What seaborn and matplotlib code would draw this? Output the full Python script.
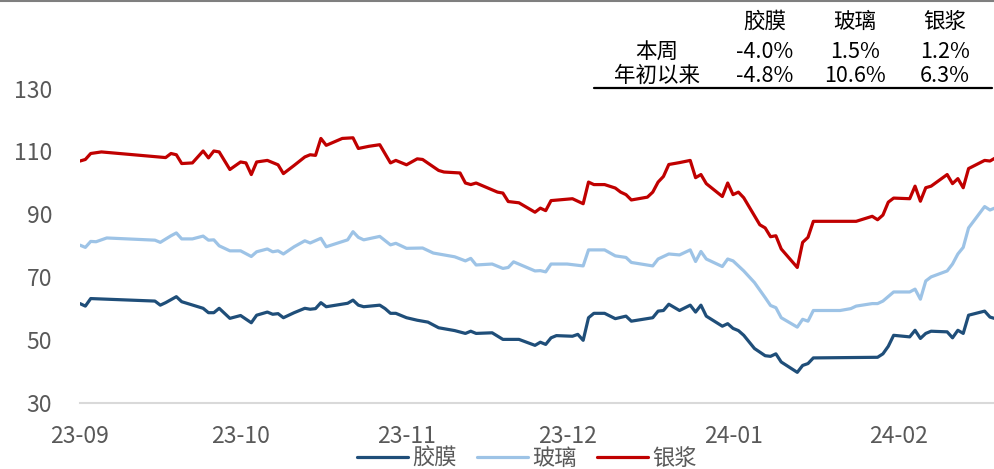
import matplotlib
matplotlib.use("Agg")
import matplotlib.pyplot as plt
import matplotlib.dates as mdates
from matplotlib.lines import Line2D
import seaborn as sns
import pandas as pd

# ---------------- data ----------------
film_dates = ["2023-09-01","2023-09-02","2023-09-03","2023-09-15","2023-09-16","2023-09-17","2023-09-19","2023-09-20",
              "2023-09-24","2023-09-25","2023-09-26","2023-09-27","2023-09-29","2023-10-01","2023-10-03","2023-10-04",
              "2023-10-06","2023-10-07","2023-10-08","2023-10-09","2023-10-11","2023-10-13","2023-10-14","2023-10-15",
              "2023-10-16","2023-10-17","2023-10-21","2023-10-22","2023-10-23","2023-10-24","2023-10-27","2023-10-28",
              "2023-10-29","2023-10-30","2023-11-01","2023-11-03","2023-11-05","2023-11-07","2023-11-10","2023-11-12",
              "2023-11-13","2023-11-14","2023-11-17","2023-11-19","2023-11-22","2023-11-25","2023-11-26","2023-11-27",
              "2023-11-28","2023-11-29","2023-12-02","2023-12-03","2023-12-04","2023-12-05","2023-12-06","2023-12-08",
              "2023-12-10","2023-12-12","2023-12-13","2023-12-17","2023-12-18","2023-12-19","2023-12-20","2023-12-22",
              "2023-12-24","2023-12-25","2023-12-26","2023-12-27","2023-12-30","2023-12-31","2024-01-01","2024-01-02",
              "2024-01-03","2024-01-05","2024-01-07","2024-01-08","2024-01-09","2024-01-10","2024-01-13","2024-01-14",
              "2024-01-15","2024-01-16","2024-01-28","2024-01-29","2024-01-30","2024-01-31","2024-02-03","2024-02-04",
              "2024-02-05","2024-02-06","2024-02-07","2024-02-10","2024-02-11","2024-02-12","2024-02-13","2024-02-14",
              "2024-02-17","2024-02-18","2024-02-19"]
film_vals = [61.5,60.7,63.1,62.3,61.0,61.8,63.7,62.1,
             60.0,58.6,58.6,60.0,56.8,57.7,55.4,57.8,
             58.8,58.1,58.3,57.0,58.6,60.0,59.7,59.9,
             61.8,60.5,61.6,62.6,61.0,60.5,61.0,59.9,
             58.4,58.4,57.0,56.2,55.6,53.8,52.9,52.0,
             52.7,52.0,52.2,50.1,50.1,48.2,49.2,48.5,
             50.6,51.3,51.1,51.7,49.8,57.0,58.4,58.4,
             56.7,57.5,55.9,57.0,59.1,59.3,61.3,59.3,
             61.0,58.8,61.0,57.5,54.3,55.1,53.6,52.9,
             51.4,47.2,44.9,44.7,45.5,42.9,39.6,41.8,
             42.4,44.2,44.4,45.5,47.9,51.4,50.9,53.0,
             50.4,52.0,52.7,52.5,50.6,53.0,52.0,57.8,
             59.1,57.2,56.7]

glass_dates = ["2023-09-01","2023-09-02","2023-09-03","2023-09-04","2023-09-06","2023-09-15","2023-09-16","2023-09-18",
               "2023-09-19","2023-09-20","2023-09-22","2023-09-24","2023-09-25","2023-09-26","2023-09-27","2023-09-29",
               "2023-10-01","2023-10-03","2023-10-04","2023-10-06","2023-10-07","2023-10-08","2023-10-09","2023-10-11",
               "2023-10-13","2023-10-14","2023-10-16","2023-10-17","2023-10-21","2023-10-22","2023-10-23","2023-10-24",
               "2023-10-27","2023-10-29","2023-10-30","2023-11-01","2023-11-04","2023-11-06","2023-11-10","2023-11-12",
               "2023-11-13","2023-11-14","2023-11-17","2023-11-19","2023-11-20","2023-11-21","2023-11-25","2023-11-26",
               "2023-11-27","2023-11-28","2023-12-01","2023-12-04","2023-12-05","2023-12-08","2023-12-10","2023-12-12",
               "2023-12-13","2023-12-17","2023-12-18","2023-12-20","2023-12-22","2023-12-24","2023-12-25","2023-12-26",
               "2023-12-27","2023-12-30","2023-12-31","2024-01-01","2024-01-03","2024-01-05","2024-01-07","2024-01-08",
               "2024-01-09","2024-01-10","2024-01-13","2024-01-14","2024-01-15","2024-01-16","2024-01-21","2024-01-23",
               "2024-01-24","2024-01-27","2024-01-28","2024-01-29","2024-01-31","2024-02-03","2024-02-04","2024-02-05",
               "2024-02-06","2024-02-07","2024-02-10","2024-02-11","2024-02-12","2024-02-13","2024-02-14","2024-02-17",
               "2024-02-18","2024-02-19"]
glass_vals = [80.1,79.4,81.3,81.2,82.4,81.7,81.0,83.1,
              84.0,82.1,82.1,83.0,81.7,81.8,79.9,78.3,
              78.3,76.5,78.0,78.9,78.0,78.3,77.3,79.6,
              81.5,80.8,82.3,79.6,81.8,84.4,82.6,81.8,
              82.9,80.2,80.7,79.1,79.2,77.6,76.4,75.1,
              75.9,73.8,74.1,72.7,73.0,74.8,71.9,72.0,
              71.6,74.1,74.1,73.5,78.6,78.6,76.7,76.2,
              74.6,73.5,75.7,77.3,77.0,78.6,74.9,78.1,
              75.7,73.3,75.7,75.1,71.9,68.2,63.4,60.9,
              60.2,57.0,54.0,56.5,55.9,59.3,59.3,59.9,
              60.7,61.5,61.5,62.3,65.2,65.2,66.1,62.9,
              68.7,70.0,71.9,74.1,77.3,79.4,85.6,92.4,
              91.3,92.0]

paste_dates = ["2023-09-01","2023-09-02","2023-09-03","2023-09-05","2023-09-17","2023-09-18","2023-09-19","2023-09-20",
               "2023-09-22","2023-09-24","2023-09-25","2023-09-26","2023-09-27","2023-09-29","2023-10-01","2023-10-02",
               "2023-10-03","2023-10-04","2023-10-06","2023-10-08","2023-10-09","2023-10-11","2023-10-13","2023-10-14",
               "2023-10-15","2023-10-16","2023-10-17","2023-10-20","2023-10-22","2023-10-23","2023-10-25","2023-10-27",
               "2023-10-29","2023-10-30","2023-11-01","2023-11-03","2023-11-04","2023-11-07","2023-11-08","2023-11-11",
               "2023-11-12","2023-11-13","2023-11-14","2023-11-18","2023-11-19","2023-11-20","2023-11-22","2023-11-25",
               "2023-11-26","2023-11-27","2023-11-28","2023-12-02","2023-12-04","2023-12-05","2023-12-06","2023-12-08",
               "2023-12-10","2023-12-11","2023-12-12","2023-12-13","2023-12-16","2023-12-17","2023-12-18","2023-12-19",
               "2023-12-20","2023-12-22","2023-12-24","2023-12-25","2023-12-26","2023-12-27","2023-12-30","2023-12-31",
               "2024-01-01","2024-01-02","2024-01-03","2024-01-06","2024-01-07","2024-01-08","2024-01-09","2024-01-10",
               "2024-01-13","2024-01-14","2024-01-15","2024-01-16","2024-01-24","2024-01-27","2024-01-28","2024-01-29",
               "2024-01-30","2024-01-31","2024-02-03","2024-02-04","2024-02-05","2024-02-06","2024-02-07","2024-02-10",
               "2024-02-11","2024-02-12","2024-02-13","2024-02-14","2024-02-17","2024-02-18","2024-02-19"]
paste_vals = [106.9,107.4,109.3,109.8,108.0,109.3,108.9,106.1,
              106.3,110.1,107.9,110.1,109.8,104.2,106.6,106.3,
              102.6,106.6,107.1,105.7,102.9,105.5,108.2,108.9,
              108.7,114.1,111.9,114.1,114.3,110.9,111.6,112.1,
              106.3,107.1,105.7,107.6,107.4,103.9,103.4,103.1,
              99.9,99.4,99.9,97.0,96.7,94.0,93.6,90.6,
              91.9,91.1,94.3,94.9,93.3,100.2,99.4,99.4,
              98.3,97.0,96.2,94.5,95.4,97.0,100.2,102.0,
              105.8,106.4,107.1,101.6,102.6,99.7,95.6,99.9,
              96.2,97.0,95.2,86.6,85.6,82.8,83.1,78.9,
              73.0,81.0,82.6,87.7,87.7,89.3,88.2,89.7,
              93.8,95.1,94.9,98.9,94.1,98.4,98.9,102.6,
              99.7,101.3,98.4,104.5,107.1,106.9,107.9]

series_names = ["胶膜", "玻璃", "银浆"]
table_rows = ["本周", "年初以来"]
table_week = ["-4.0%", "1.5%", "1.2%"]
table_ytd = ["-4.8%", "10.6%", "6.3%"]
y_ticks = [30, 50, 70, 90, 110, 130]

# ---------------- style ----------------
sns.set_theme(style="white")
plt.rcParams['font.family'] = ['Noto Sans CJK SC', 'DejaVu Sans']

colors = ["#1f4e79", "#9dc3e6", "#c00000"]
gray = "#595959"

fig = plt.figure(figsize=(9.94, 4.69), dpi=100)
ax = fig.add_axes([80/994, (469-402.5)/469, 1 - 80/994, (402.5-88.5)/469])

for name, d, v, c in zip(series_names, [film_dates, glass_dates, paste_dates],
                         [film_vals, glass_vals, paste_vals], colors):
    sns.lineplot(x=pd.to_datetime(d), y=v, ax=ax, color=c, linewidth=2.3, label=name)

ax.set_xlim(pd.Timestamp("2023-09-01"), pd.Timestamp("2024-02-18 18:00"))
ax.set_ylim(30, 130)
ax.set_yticks(y_ticks)
ax.xaxis.set_major_locator(mdates.MonthLocator())
ax.xaxis.set_major_formatter(mdates.DateFormatter("%y-%m"))

for s in ["top", "right", "left"]:
    ax.spines[s].set_visible(False)
ax.spines["bottom"].set_color("#d9d9d9")
ax.spines["bottom"].set_linewidth(1.5)
ax.tick_params(axis="x", colors="#d9d9d9", length=6, width=1.5, direction="out",
               labelcolor=gray, labelsize=16.5, pad=10)
ax.tick_params(axis="y", length=0, labelcolor=gray, labelsize=16.5, pad=20)
ax.set_xlabel("")
ax.set_ylabel("")
ax.grid(False)

leg = ax.legend(loc="center", bbox_to_anchor=(527/994, 1 - 458/469), bbox_transform=fig.transFigure,
                ncol=3, frameon=False, fontsize=16, handlelength=2.3, handletextpad=0.2,
                columnspacing=0.9, borderaxespad=0)
for t in leg.get_texts():
    t.set_color(gray)

# ---------------- table ----------------
col_x = [765, 855, 945]
row_y = [51.5, 76]
kw = dict(ha="center", va="center", fontsize=15.5, color="black", transform=fig.transFigure)
for x, name in zip(col_x, series_names):
    fig.text(x/994, 1 - 21.5/469, name, **kw)
for y, lab in zip(row_y, table_rows):
    fig.text(657/994, 1 - y/469, lab, **kw)
for x, a, b in zip(col_x, table_week, table_ytd):
    fig.text(x/994, 1 - row_y[0]/469, a, **kw)
    fig.text(x/994, 1 - row_y[1]/469, b, **kw)
fig.add_artist(Line2D([594/994, 992/994], [1 - 88/469, 1 - 88/469], color="black", linewidth=1.6))
fig.add_artist(Line2D([0, 1], [1 - 0.8/469, 1 - 0.8/469], color="#7f7f7f", linewidth=1.5))

fig.savefig("out.png", dpi=100)
